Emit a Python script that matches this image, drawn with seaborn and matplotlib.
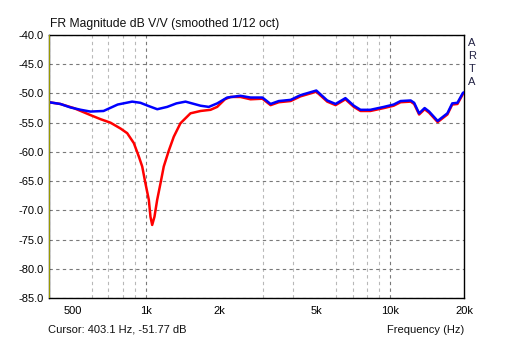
import numpy as np
import pandas as pd
import matplotlib
matplotlib.use("Agg")
import matplotlib.pyplot as plt
import seaborn as sns

# ---- data ----
blue_freq = [400, 445, 490, 540, 591, 669, 764, 876, 947, 1030, 1110, 1219, 1330, 1449,
             1669, 1804, 1953, 2145, 2283, 2430, 2673, 2990, 3230, 3490, 3900, 4280,
             4970, 5510, 5960, 6540, 7080, 7540, 8270, 9400, 10300, 11000, 12100, 12500,
             13100, 13800, 14400, 15600, 17100, 17900, 18800, 19800, 20000]
blue_db = [-51.5, -51.8, -52.4, -52.8, -53.1, -53.0, -51.9, -51.4, -51.6, -52.2, -52.7, -52.3, -51.7, -51.4,
           -52.1, -52.3, -51.7, -50.7, -50.55, -50.4, -50.7, -50.7, -51.8, -51.3, -51.1, -50.3,
           -49.5, -51.2, -51.8, -50.8, -52.1, -52.8, -52.8, -52.3, -51.9, -51.3, -51.2, -51.6,
           -53.4, -52.5, -53.1, -54.7, -53.4, -51.7, -51.6, -49.9, -49.8]

red_freq = [400, 445, 505, 591, 650, 714, 785, 836, 890, 933, 963, 993, 1025, 1041, 1058,
            1081, 1109, 1144, 1180, 1237, 1297, 1381, 1518, 1669, 1834, 1952, 2100, 2214,
            2430, 2673, 2990, 3230, 3490, 3900, 4280, 4970, 5510, 5960, 6540, 7080, 7540,
            8270, 9400, 10300, 11000, 12100, 12500, 13100, 13800, 14400, 15600, 17100,
            17900, 18800, 19800, 20000]
red_db = [-51.5, -51.8, -52.5, -53.7, -54.4, -55.0, -56.0, -56.8, -58.5, -60.8, -62.5, -65.4, -68.2, -71.1, -72.5,
          -71.1, -68.2, -65.4, -62.5, -59.8, -57.4, -55.1, -53.4, -53.0, -52.8, -52.3, -51.0, -50.6,
          -50.6, -51.0, -50.9, -52.0, -51.5, -51.3, -50.5, -49.7, -51.4, -52.0, -51.0, -52.3, -53.0,
          -53.0, -52.5, -52.1, -51.5, -51.4, -51.8, -53.6, -52.7, -53.3, -54.9, -53.6,
          -51.9, -51.8, -50.1, -50.0]

y_ticks = [-40, -45, -50, -55, -60, -65, -70, -75, -80, -85]
x_ticks = [500, 1000, 2000, 5000, 10000, 20000]
x_tick_labels = ["500", "1k", "2k", "5k", "10k", "20k"]

title = "FR Magnitude dB V/V (smoothed 1/12 oct)"
cursor_text = "Cursor: 403.1 Hz, -51.77 dB"
xlabel_text = "Frequency (Hz)"

# ---- plot ----
sns.set_theme(style="white")
plt.rcParams['font.family'] = ['Liberation Sans', 'DejaVu Sans']

fig = plt.figure(figsize=(5.12, 3.40), dpi=100)
fig.patch.set_facecolor("white")
W, H = 512, 340
ax = fig.add_axes([49 / W, 1 - 298 / H, (464 - 49) / W, (298 - 35) / H])
ax.set_facecolor("white")

red_df = pd.DataFrame({"freq": red_freq, "db": red_db})
blue_df = pd.DataFrame({"freq": blue_freq, "db": blue_db})
sns.lineplot(data=red_df, x="freq", y="db", color="#ff0000", linewidth=1.8, ax=ax, zorder=3)
sns.lineplot(data=blue_df, x="freq", y="db", color="#0000ff", linewidth=1.8, ax=ax, zorder=4)

ax.set_xscale("log")
ax.set_xlim(400, 20000)
ax.set_ylim(-85, -40)
ax.set_yticks(y_ticks)
ax.set_yticklabels([f"{v:.1f}" for v in y_ticks])
ax.set_xticks(x_ticks)
ax.set_xticklabels(x_tick_labels)
ax.xaxis.set_minor_formatter(matplotlib.ticker.NullFormatter())
ax.xaxis.set_minor_locator(matplotlib.ticker.LogLocator(base=10, subs=np.arange(2, 10)))
ax.tick_params(axis="both", which="both", length=0, labelsize=8, colors="black")
ax.tick_params(axis="y", pad=4)
ax.tick_params(axis="x", pad=6)
ax.set_xlabel("")
ax.set_ylabel("")

# grid
ax.grid(False)
ax.yaxis.grid(True, which="major", color="#7a7a7a", linestyle=(0, (3, 3)), linewidth=0.8)
ax.xaxis.grid(True, which="minor", color="#b8b8b8", linestyle=(0, (3, 3)), linewidth=0.8)
for xv in [1000, 10000]:
    ax.axvline(xv, color="#7a7a7a", linestyle=(0, (3, 3)), linewidth=0.8, zorder=1)
ax.set_axisbelow(True)

for s in ax.spines.values():
    s.set_visible(True)
    s.set_color("black")
    s.set_linewidth(1.0)
ax.axvline(ax.get_xlim()[0] * 1.004, color="#b8b800", linewidth=1.2, zorder=5)

# texts
fig.text(50 / W, 1 - 24.5 / H, title, fontsize=8.7, va="center", ha="left", color="#111111")
fig.text(48 / W, 1 - 330 / H, cursor_text, fontsize=8, va="center", ha="left", color="#111111")
fig.text(464 / W, 1 - 330 / H, xlabel_text, fontsize=8, va="center", ha="right", color="#111111")
for i, ch in enumerate("ARTA"):
    fig.text(472 / W, 1 - (43.5 + i * 12.7) / H, ch, fontsize=8, va="center", ha="center",
             color="#222244")

fig.savefig("out.png", dpi=100, facecolor="white")
